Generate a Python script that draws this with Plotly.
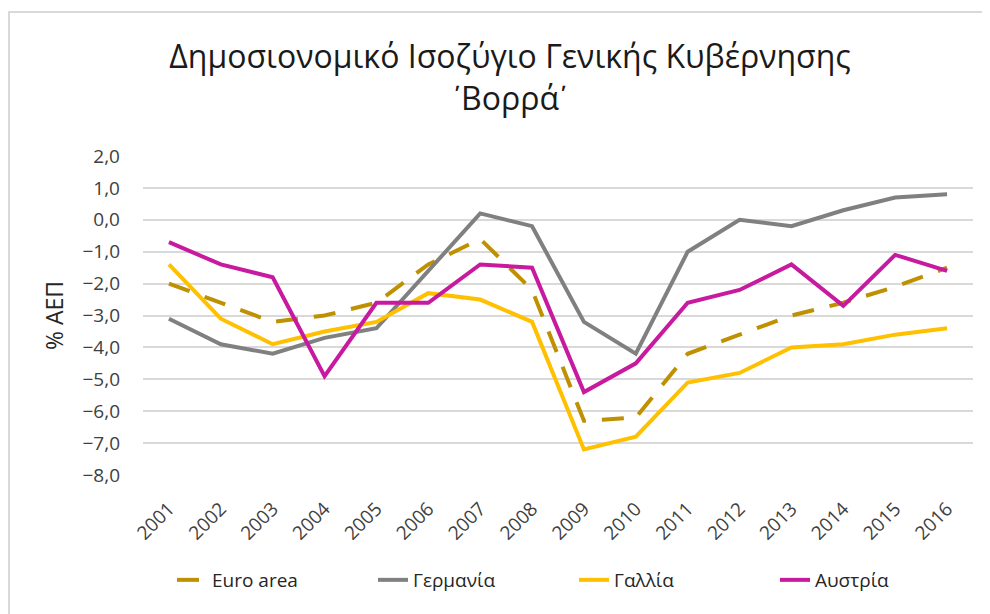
import plotly.graph_objects as go

years = [str(y) for y in range(2001, 2017)]
euro_area = [-2.0, -2.6, -3.2, -3.0, -2.6, -1.4, -0.6, -2.2, -6.3, -6.2, -4.2, -3.6, -3.0, -2.6, -2.1, -1.5]
germany = [-3.1, -3.9, -4.2, -3.7, -3.4, -1.6, 0.2, -0.2, -3.2, -4.2, -1.0, 0.0, -0.2, 0.3, 0.7, 0.8]
france = [-1.4, -3.1, -3.9, -3.5, -3.2, -2.3, -2.5, -3.2, -7.2, -6.8, -5.1, -4.8, -4.0, -3.9, -3.6, -3.4]
austria = [-0.7, -1.4, -1.8, -4.9, -2.6, -2.6, -1.4, -1.5, -5.4, -4.5, -2.6, -2.2, -1.4, -2.7, -1.1, -1.6]

series = [
    ("Euro area", euro_area, "#BF9000", "22px,16px"),
    ("Γερμανία", germany, "#808080", "solid"),
    ("Γαλλία", france, "#FFC000", "solid"),
    ("Αυστρία", austria, "#C71A9F", "solid"),
]

FONT = "Open Sans"
W, H = 982, 606
L, R, T, B = 135, 17, 148, 139
PW, PH = W - L - R, H - T - B

fig = go.Figure()
for name, vals, color, dash in series:
    fig.add_trace(go.Scatter(
        x=years, y=vals, name=name, mode="lines",
        line=dict(color=color, width=4, dash=dash),
    ))

fig.update_layout(
    width=W, height=H,
    paper_bgcolor="white", plot_bgcolor="white",
    separators=",.",
    font=dict(family=FONT, size=18, color="#404040"),
    margin=dict(l=L, r=R, t=T, b=B),
    title=dict(
        text=("Δημοσιονομικό Ισοζύγιο Γενικής Κυβέρνησης<br>"
              "<span style='font-family:Roboto'>΄</span>Βορρά"
              "<span style='font-family:Roboto'>΄</span>"),
        x=502 / W, xref="container", xanchor="center",
        y=1 - 60 / H, yref="container", yanchor="top",
        font=dict(family=FONT, size=32, color="#1a1a1a"),
    ),
    showlegend=True,
    legend=dict(
        orientation="h", x=164 / W, xref="container", xanchor="left",
        y=1 - 572 / H, yref="container", yanchor="middle",
        font=dict(family=FONT, size=19, color="#262626"),
        entrywidth=156, entrywidthmode="pixels", tracegroupgap=0,
    ),
    shapes=[dict(
        type="rect", xref="paper", yref="paper",
        x0=(1 - L) / PW, x1=1.5, y0=-1.0, y1=(H - B - 4) / PH,
        line=dict(color="#D9D9D9", width=2), fillcolor="rgba(0,0,0,0)",
        layer="below",
    )],
)

fig.update_xaxes(
    type="category", range=[-0.5, 15.5], showgrid=False, zeroline=False, showline=False,
    tickangle=-45, ticks="", ticklabelstandoff=18,
    tickfont=dict(family=FONT, size=19, color="#404040"),
)
fig.update_yaxes(
    range=[-8, 2], dtick=1, tickformat=".1f",
    showgrid=True, gridcolor="#D9D9D9", gridwidth=2,
    zeroline=False, showline=False, ticks="", ticklabelstandoff=22,
    tickfont=dict(family=FONT, size=19, color="#404040"),
    title=dict(text="% ΑΕΠ", font=dict(family=FONT, size=23, color="#262626"), standoff=12),
)

fig.write_html("out.html")
